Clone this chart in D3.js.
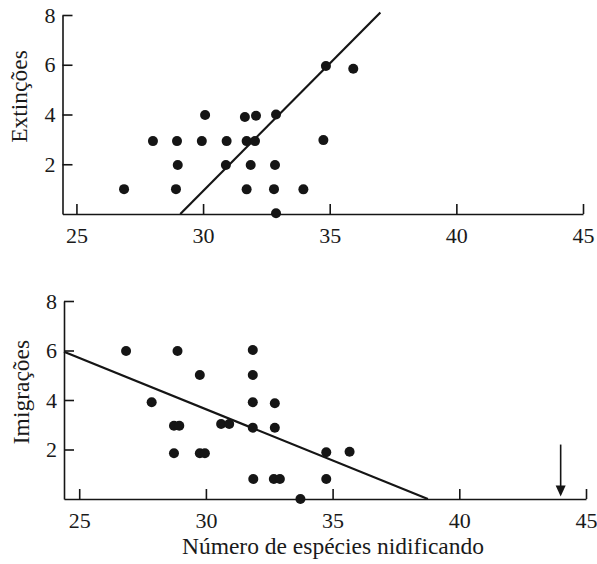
<!DOCTYPE html>
<html>
<head>
<meta charset="utf-8">
<script src="https://cdnjs.cloudflare.com/ajax/libs/d3/7.8.5/d3.min.js"></script>
<style>
  body { margin: 0; background: #fff; }
  svg { display: block; }
  text { font-family: "Liberation Serif", "DejaVu Serif", serif; fill: #1a1a1a; }
</style>
</head>
<body>
<svg width="597" height="564"></svg>
<script>
// ticks
var xTicks = [25, 30, 35, 40, 45];
var yTicks = [2, 4, 6, 8];

// top panel: extinctions vs number of nesting species
var extX = [26.88, 28.02, 28.97, 29.0, 28.93, 30.08, 29.95, 30.93, 30.9, 31.65, 32.09, 31.72,
            32.05, 31.88, 31.72, 32.88, 32.84, 32.8, 32.88, 33.96, 34.85, 35.93, 34.75];
var extY = [1.0, 2.93, 2.93, 1.97, 1.0, 3.98, 2.93, 2.93, 1.97, 3.9, 3.95, 2.93,
            2.93, 1.97, 0.99, 4.0, 1.97, 1.0, 0.03, 0.99, 5.95, 5.84, 2.97];
var extLineX = [29.1, 37.0];
var extLineY = [0, 8.1];

// bottom panel: immigrations
var immX = [26.85, 28.88, 29.76, 27.86, 28.74, 28.95, 28.74, 29.76, 29.96, 30.6, 30.92, 31.85,
            31.85, 31.85, 31.85, 31.87, 32.72, 32.72, 32.68, 32.92, 33.73, 34.75, 35.67, 34.75];
var immY = [5.98, 5.98, 5.01, 3.91, 2.96, 2.96, 1.85, 1.85, 1.85, 3.03, 3.03, 6.02,
            5.01, 3.91, 2.88, 0.81, 3.87, 2.88, 0.81, 0.81, 0.0, 1.89, 1.91, 0.81];
var immLineX = [24.4, 38.76];
var immLineY = [5.95, 0];

// equilibrium arrow
var arrowX = 44;
var arrowY = [2.2, 0.1];

var svg = d3.select("svg");
var ink = "#151515";

function panel(cfg) {
  var x = d3.scaleLinear().domain(cfg.xDomain).range(cfg.xRange);
  var y = d3.scaleLinear().domain([0, 8]).range(cfg.yRange);
  var g = svg.append("g");

  var xAxis = g.append("g")
      .attr("transform", "translate(0," + cfg.yRange[0] + ")")
      .call(d3.axisBottom(x).tickValues(xTicks).tickSizeInner(-10).tickSizeOuter(0).tickPadding(13));
  var yAxis = g.append("g")
      .attr("transform", "translate(" + cfg.xRange[0] + ",0)")
      .call(d3.axisLeft(y).tickValues(yTicks).tickSizeInner(-10).tickSizeOuter(0).tickPadding(7));

  [xAxis, yAxis].forEach(function(a) {
    a.attr("font-family", null).attr("font-size", null);
    a.selectAll("path, line").attr("stroke", ink).attr("stroke-width", 1.6);
    a.selectAll("text").attr("font-size", 22).attr("fill", ink);
  });

  // regression line
  g.append("line")
      .attr("x1", x(cfg.lineX[0])).attr("y1", y(cfg.lineY[0]))
      .attr("x2", x(cfg.lineX[1])).attr("y2", y(cfg.lineY[1]))
      .attr("stroke", ink)
      .attr("stroke-width", 2.2);

  g.selectAll("circle")
      .data(cfg.xs.map(function(v, i) { return [v, cfg.ys[i]]; }))
      .enter().append("circle")
      .attr("cx", function(d) { return x(d[0]); })
      .attr("cy", function(d) { return y(d[1]); })
      .attr("r", 5)
      .attr("fill", ink);

  g.append("text")
      .attr("transform", "translate(" + cfg.labelPos[0] + "," + cfg.labelPos[1] + ") rotate(-90)")
      .attr("text-anchor", "middle")
      .attr("font-size", 23.5)
      .text(cfg.label);

  return { x: x, y: y, g: g };
}

panel({
  xDomain: [24.45, 45], xRange: [62.5, 583], yRange: [214, 15],
  xs: extX, ys: extY, lineX: extLineX, lineY: extLineY,
  label: "Extinções", labelPos: [27, 96.5]
});

var bottom = panel({
  xDomain: [24.4, 45], xRange: [64, 586], yRange: [499, 301],
  xs: immX, ys: immY, lineX: immLineX, lineY: immLineY,
  label: "Imigrações", labelPos: [29, 392]
});

// arrow pointing at the axis
var ax = bottom.x(arrowX);
bottom.g.append("line")
    .attr("x1", ax).attr("x2", ax)
    .attr("y1", bottom.y(arrowY[0])).attr("y2", bottom.y(arrowY[1]) - 8)
    .attr("stroke", ink).attr("stroke-width", 1.6);
var tip = bottom.y(arrowY[1]);
bottom.g.append("path")
    .attr("d", "M" + (ax - 5) + "," + (tip - 11) + "L" + (ax + 5) + "," + (tip - 11) + "L" + ax + "," + tip + "Z")
    .attr("fill", ink);

svg.append("text")
    .attr("x", 333)
    .attr("y", 554)
    .attr("text-anchor", "middle")
    .attr("font-size", 23.5)
    .text("Número de espécies nidificando");
</script>
</body>
</html>
